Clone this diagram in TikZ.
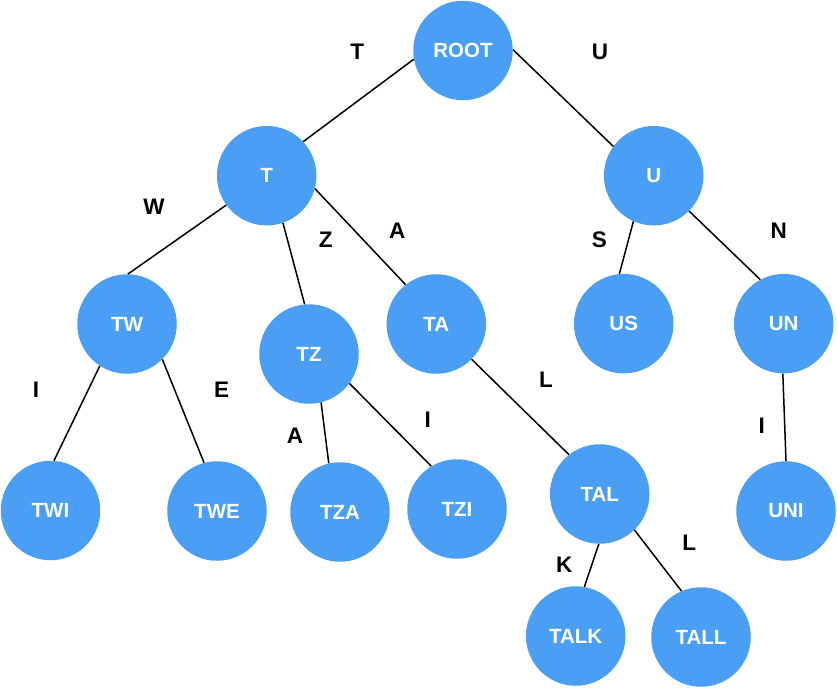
\documentclass[tikz,border=0pt]{standalone}
\usepackage{fontspec}
\setmainfont{Liberation Sans}
\definecolor{nodeblue}{HTML}{4A9FF5}
\begin{document}
\begin{tikzpicture}[x=1pt,y=-1pt,
  tnode/.style={circle, fill=nodeblue, draw=none, minimum size=99.5pt, inner sep=0pt, text=white, font=\fontsize{20.5}{24}\selectfont\bfseries},
  elabel/.style={font=\fontsize{22.5}{26}\selectfont\bfseries, text=black, inner sep=0pt},
  conn/.style={line width=1.5pt, black}]
\useasboundingbox (0,0) rectangle (837,688);
% nodes
\node[tnode] (root) at (463,50.5) {ROOT};
\node[tnode] (t) at (266.7,175.7) {T};
\node[tnode] (u) at (653.7,175.7) {U};
\node[tnode] (tw) at (127,324) {TW};
\node[tnode] (tz) at (309,354) {TZ};
\node[tnode] (ta) at (436.3,324) {TA};
\node[tnode] (us) at (623.7,323.7) {US};
\node[tnode] (un) at (783.7,323.7) {UN};
\node[tnode] (twi) at (50.5,510.5) {TWI};
\node[tnode] (twe) at (217,511) {TWE};
\node[tnode] (tza) at (340,512) {TZA};
\node[tnode] (tzi) at (457,509) {TZI};
\node[tnode] (tal) at (599.7,494) {TAL};
\node[tnode] (uni) at (786,511) {UNI};
\node[tnode] (talk) at (575.7,636) {TALK};
\node[tnode] (tall) at (701,637) {TALL};
% connectors
\draw[conn] (root.190) -- (t.43);
\draw[conn] (root.1) -- (u.144);
\draw[conn] (u.246) -- (us.95.5);
\draw[conn] (u.315.5) -- (un.118.4);
\draw[conn] (t.216.6) -- (tw.89);
\draw[conn] (t.289) -- (tz.95.8);
\draw[conn] (t.345) -- (ta.128.4);
\draw[conn] (tw.237.1) -- (twi.86.5);
\draw[conn] (tw.315.2) -- (twe.105.7);
\draw[conn] (tz.284.6) -- (tza.103.5);
\draw[conn] (tz.324.4) -- (tzi.121.5);
\draw[conn] (ta.315.8) -- (tal.128.2);
\draw[conn] (tal.269.5) -- (talk.80.4);
\draw[conn] (tal.314.5) -- (tall.113.8);
\draw[conn] (un.269.2) -- (uni.90.8);
% edge labels
\node[elabel] (lT) at (357.3,51.7) {T};
\node[elabel] (lU) at (600,51.7) {U};
\node[elabel] (lS) at (599.3,239.3) {S};
\node[elabel] (lN) at (778.7,230.7) {N};
\node[elabel] (lW) at (154,206.7) {W};
\node[elabel] (lZ) at (325.7,240) {Z};
\node[elabel] (lA1) at (397.3,231) {A};
\node[elabel] (lI1) at (36,389.3) {I};
\node[elabel] (lE) at (221.7,389.3) {E};
\node[elabel] (lA2) at (295,436) {A};
\node[elabel] (lI2) at (427.7,419.3) {I};
\node[elabel] (lL1) at (546,379.3) {L};
\node[elabel] (lI3) at (761.7,426) {I};
\node[elabel] (lK) at (564.3,565) {K};
\node[elabel] (lL2) at (689.3,542.3) {L};
\end{tikzpicture}
\end{document}
